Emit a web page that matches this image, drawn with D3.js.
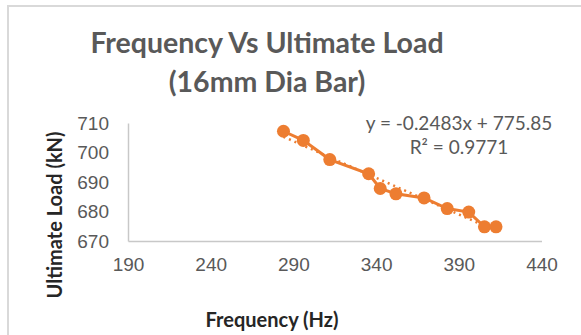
<!DOCTYPE html>
<html>
<meta charset="UTF-8">
<head>
<title>Frequency Vs Ultimate Load</title>
<style>
  body { margin: 0; background: #fff; }
  svg { display: block; font-family: Lato, "Open Sans", sans-serif; }
  .tick text { fill: #595959; font-size: 19px; }
</style>
</head>
<body>
<div id="chart"></div>
<script src="https://cdnjs.cloudflare.com/ajax/libs/d3/7.8.5/d3.min.js"></script>
<script>
  // values
  let frequency = [284, 296, 312, 335.5, 342.5, 352, 369, 383, 396, 405.5, 412.5];
  let load = [707.2, 704.1, 697.6, 692.8, 687.8, 686, 684.6, 681, 679.8, 674.8, 674.8];
  let xTicks = [190, 240, 290, 340, 390, 440];
  let yTicks = [670, 680, 690, 700, 710];
  let slope = -0.2483, intercept = 775.85;

  let width = 581, height = 335;
  let orange = "#ED7D31";

  let svg = d3.select("#chart").append("svg")
    .attr("width", width)
    .attr("height", height);

  // chart frame
  svg.append("rect")
    .attr("x", 8).attr("y", 6)
    .attr("width", 600).attr("height", 400)
    .attr("fill", "none")
    .attr("stroke", "#d9d9d9")
    .attr("stroke-width", 2);

  let x = d3.scaleLinear().domain([190, 440]).range([128, 541.5]);
  let y = d3.scaleLinear().domain([670, 710]).range([241, 123]);

  // title
  let title = svg.append("text")
    .attr("text-anchor", "middle")
    .attr("fill", "#595959")
    .attr("font-size", 28.5)
    .attr("font-weight", "bold");
  title.append("tspan").attr("x", 267).attr("y", 53).text("Frequency Vs Ultimate Load");
  title.append("tspan").attr("x", 267).attr("y", 92).text("(16mm Dia Bar)");

  // axes
  svg.append("g")
    .attr("transform", "translate(0," + y(670) + ")")
    .call(d3.axisBottom(x).tickValues(xTicks).tickSize(0).tickPadding(17));
  svg.append("g")
    .attr("transform", "translate(" + x(190) + ",0)")
    .call(d3.axisLeft(y).tickValues(yTicks).tickSize(0).tickPadding(19));
  svg.selectAll(".domain").attr("stroke", "#c8c8c8").attr("stroke-width", 1.5);

  // axis titles
  svg.append("text")
    .attr("x", 272).attr("y", 327)
    .attr("text-anchor", "middle")
    .attr("fill", "#262626")
    .attr("font-size", 20)
    .attr("font-weight", "bold")
    .text("Frequency (Hz)");
  svg.append("text")
    .attr("transform", "translate(62,215) rotate(-90)")
    .attr("text-anchor", "middle")
    .attr("fill", "#262626")
    .attr("font-size", 20)
    .attr("font-weight", "bold")
    .text("Ultimate Load (kN)");

  let pts = frequency.map((f, i) => [f, load[i]]);

  // linear trendline
  let xMin = d3.min(frequency), xMax = d3.max(frequency);
  svg.append("line")
    .attr("x1", x(xMin)).attr("y1", y(slope * xMin + intercept))
    .attr("x2", x(xMax)).attr("y2", y(slope * xMax + intercept))
    .attr("stroke", orange)
    .attr("stroke-width", 2.5)
    .attr("stroke-dasharray", "2,4");

  // series
  svg.append("path")
    .datum(pts)
    .attr("fill", "none")
    .attr("stroke", orange)
    .attr("stroke-width", 3)
    .attr("d", d3.line().x(d => x(d[0])).y(d => y(d[1])));

  svg.selectAll("circle")
    .data(pts)
    .enter().append("circle")
    .attr("cx", d => x(d[0]))
    .attr("cy", d => y(d[1]))
    .attr("r", 6.5)
    .attr("fill", orange);

  // trendline label
  let eq = svg.append("text")
    .attr("text-anchor", "middle")
    .attr("fill", "#595959")
    .attr("font-size", 19);
  eq.append("tspan").attr("x", 459).attr("y", 130).text("y = -0.2483x + 775.85");
  eq.append("tspan").attr("x", 459).attr("y", 154).text("R² = 0.9771");
</script>
</body>
</html>
